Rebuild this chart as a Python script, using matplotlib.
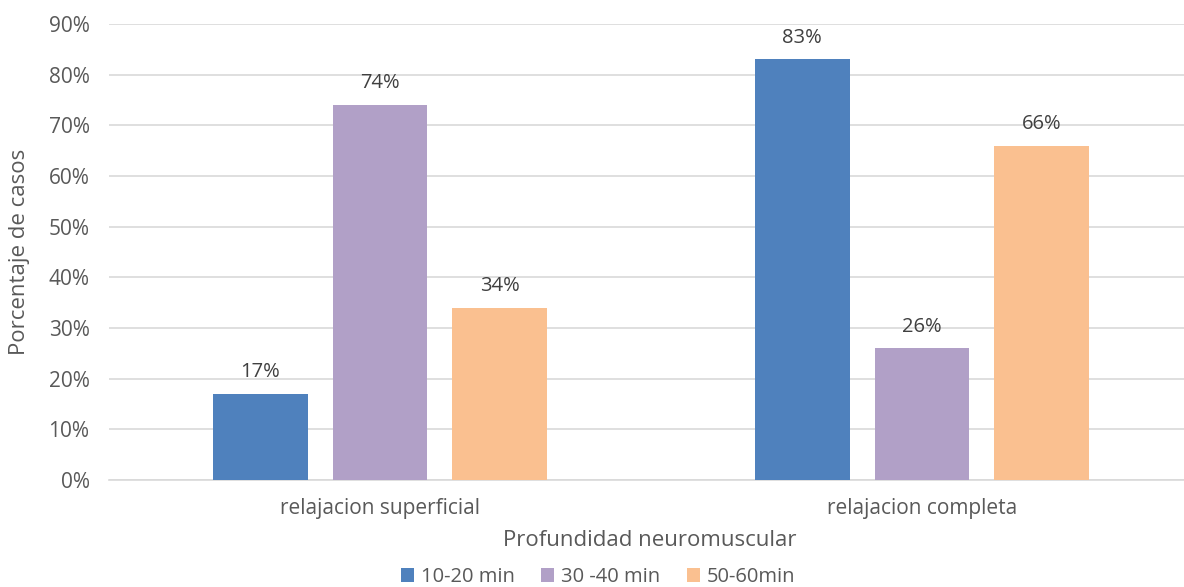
import matplotlib.pyplot as plt
import numpy as np
from matplotlib.ticker import PercentFormatter

plt.rcParams['font.family'] = ['Open Sans', 'DejaVu Sans']

categorias = ["relajacion superficial", "relajacion completa"]
series = ["10-20 min", "30 -40 min", "50-60min"]
valores = [
    [17, 83],  # 10-20 min
    [74, 26],  # 30 -40 min
    [34, 66],  # 50-60min
]
colores = ["#4f81bd", "#b1a0c7", "#fac090"]
gris = "#595959"

fig = plt.figure(figsize=(11.84, 5.87), dpi=100)
ax = fig.add_axes([109 / 1184, 1 - 480 / 587, 1084 / 1184, 456 / 587])

x = np.arange(len(categorias))
ancho = 0.175
paso = 0.221
for i, (serie, vals, col) in enumerate(zip(series, valores, colores)):
    pos = x + (i - 1) * paso
    barras = ax.bar(pos, vals, width=ancho, color=col, label=serie, zorder=3)
    for b, v in zip(barras, vals):
        ax.text(b.get_x() + b.get_width() / 2, v + 2.3, f"{v}%", ha="center",
                va="bottom", fontsize=14.5, color="#404040")

ax.set_xlim(-0.5, 1.5)
ax.set_ylim(0, 90)
ax.set_yticks(range(0, 91, 10))
ax.yaxis.set_major_formatter(PercentFormatter(decimals=0))
ax.set_xticks(x)
ax.set_xticklabels(categorias)
ax.grid(axis="y", color="#d9d9d9", linewidth=1.2, zorder=0)
for s in ax.spines.values():
    s.set_visible(False)
ax.spines["bottom"].set_visible(True)
ax.spines["bottom"].set_color("#d9d9d9")
ax.spines["bottom"].set_linewidth(1.2)
ax.tick_params(axis="both", length=0, labelsize=15, colors=gris)
ax.tick_params(axis="y", pad=14)
ax.tick_params(axis="x", pad=13)

fig.text(20 / 1184, 1 - 252 / 587, "Porcentaje de casos", rotation=90,
         ha="center", va="center", fontsize=16, color=gris)
fig.text(650 / 1184, 1 - 540 / 587, "Profundidad neuromuscular", ha="center",
         va="center", fontsize=16, color=gris)

fig.legend(loc="center", bbox_to_anchor=(598 / 1184, 1 - 577 / 587), ncol=3,
           frameon=False, fontsize=14.5, handlelength=0.65, handleheight=0.65,
           columnspacing=1.3, handletextpad=0.35, labelcolor=gris)

fig.savefig("out.png", dpi=100)
